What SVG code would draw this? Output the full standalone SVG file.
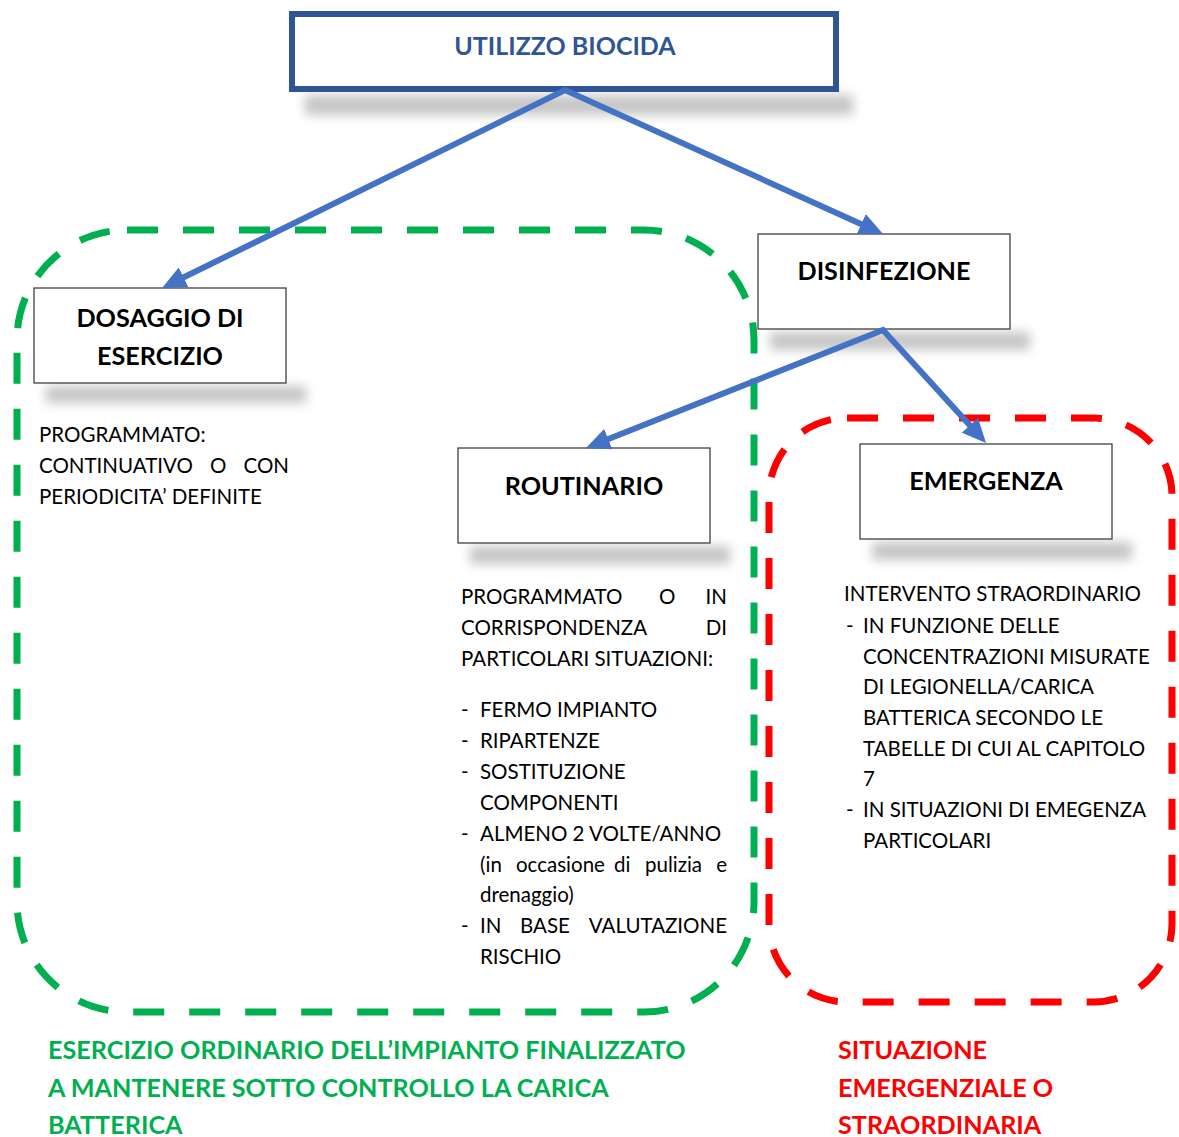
<svg xmlns="http://www.w3.org/2000/svg" width="1179" height="1137" viewBox="0 0 1179 1137">
<defs>
<style>
.box{fill:#fff;stroke:#404040;stroke-width:1.3}
.shadow{fill:#8c8c8c;opacity:0.5;filter:url(#blur)}
.h{font-family:Lato,"Liberation Sans",sans-serif;font-weight:bold;font-size:25.2px;fill:#000;text-anchor:middle}
.t{font-family:Lato,"Liberation Sans",sans-serif;font-size:20.5px;fill:#000}
.m{text-anchor:middle}
.e{text-anchor:end}
.conn{fill:none;stroke:#4472C4;stroke-width:6;stroke-linejoin:miter;marker-end:url(#ah)}
.region{fill:none;stroke-width:7;stroke-dasharray:31 25}
.lbl{font-family:Lato,"Liberation Sans",sans-serif;font-weight:bold;font-size:25.2px}
</style>
<filter id="blur" x="-20%" y="-150%" width="140%" height="400%"><feGaussianBlur stdDeviation="5.5"/></filter>
<marker id="ah" markerUnits="userSpaceOnUse" viewBox="0 0 24 22" markerWidth="24" markerHeight="22" refX="10" refY="11" orient="auto-start-reverse">
<path d="M0,0 L24,11 L0,22 z" fill="#4472C4"/>
</marker>
</defs>
<rect width="1179" height="1137" fill="#fff"/>

<g id="regions">
<rect id="region-ordinario" class="region" x="17" y="230" width="737" height="782" rx="110" ry="110" stroke="#00B050"/>
<rect id="region-emergenza" class="region" x="769" y="418" width="403" height="584" rx="78" ry="78" stroke="#FF0000"/>
</g>

<g id="node-utilizzo">
<rect class="shadow" x="305" y="95" width="548" height="20"/>
<rect x="292" y="14" width="544" height="75" fill="#fff" stroke="#2F5597" stroke-width="6"/>
<text x="565" y="55" class="h" style="font-size:25px;fill:#2F5597">UTILIZZO BIOCIDA</text>
</g>

<g id="node-dosaggio">
<rect class="shadow" x="46" y="386" width="260" height="17"/>
<rect class="box" x="34" y="288" width="252" height="95"/>
<text x="160" y="327" class="h">DOSAGGIO DI</text>
<text x="160" y="365" class="h">ESERCIZIO</text>
</g>

<g id="node-disinfezione">
<rect class="shadow" x="770" y="332" width="260" height="18"/>
<rect class="box" x="758" y="234" width="252" height="95"/>
<text x="884" y="280" class="h">DISINFEZIONE</text>
</g>

<g id="node-routinario">
<rect class="shadow" x="470" y="546" width="260" height="18"/>
<rect class="box" x="458" y="448" width="252" height="95"/>
<text x="584" y="495" class="h">ROUTINARIO</text>
</g>

<g id="node-emergenza">
<rect class="shadow" x="872" y="542" width="260" height="18"/>
<rect class="box" x="860" y="444" width="252" height="95"/>
<text x="986" y="490" class="h">EMERGENZA</text>
</g>

<g id="text-dosaggio" class="t">
<text x="39" y="442">PROGRAMMATO:</text>
<text y="473"><tspan x="39">CONTINUATIVO</tspan><tspan x="210">O</tspan><tspan x="289" class="e">CON</tspan></text>
<text x="39" y="504">PERIODICITA’ DEFINITE</text>
</g>

<g id="text-routinario" class="t">
<text y="604"><tspan x="461">PROGRAMMATO</tspan><tspan x="659">O</tspan><tspan x="727" class="e">IN</tspan></text>
<text y="635"><tspan x="461">CORRISPONDENZA</tspan><tspan x="727" class="e">DI</tspan></text>
<text x="461" y="666">PARTICOLARI SITUAZIONI:</text>
<text y="717"><tspan x="461">-</tspan><tspan x="480">FERMO IMPIANTO</tspan></text>
<text y="748"><tspan x="461">-</tspan><tspan x="480">RIPARTENZE</tspan></text>
<text y="779"><tspan x="461">-</tspan><tspan x="480">SOSTITUZIONE</tspan></text>
<text x="480" y="810">COMPONENTI</text>
<text y="841"><tspan x="461">-</tspan><tspan x="480">ALMENO 2 VOLTE/ANNO</tspan></text>
<text y="872"><tspan x="480">(in</tspan><tspan x="516">occasione</tspan><tspan x="614">di</tspan><tspan x="645">pulizia</tspan><tspan x="727" class="e">e</tspan></text>
<text x="480" y="902">drenaggio)</text>
<text y="933"><tspan x="461">-</tspan><tspan x="480">IN</tspan><tspan x="520">BASE</tspan><tspan x="727" class="e">VALUTAZIONE</tspan></text>
<text x="480" y="964">RISCHIO</text>
</g>

<g id="text-emergenza" class="t">
<text x="844" y="601">INTERVENTO STRAORDINARIO</text>
<text y="633"><tspan x="846">-</tspan><tspan x="863">IN FUNZIONE DELLE</tspan></text>
<text x="863" y="664">CONCENTRAZIONI MISURATE</text>
<text x="863" y="694">DI LEGIONELLA/CARICA</text>
<text x="863" y="725">BATTERICA SECONDO LE</text>
<text x="863" y="756">TABELLE DI CUI AL CAPITOLO</text>
<text x="863" y="786">7</text>
<text y="817"><tspan x="846">-</tspan><tspan x="863">IN SITUAZIONI DI EMEGENZA</tspan></text>
<text x="863" y="848">PARTICOLARI</text>
</g>

<g id="label-ordinario" class="lbl" fill="#00B050">
<text x="48" y="1059">ESERCIZIO ORDINARIO DELL’IMPIANTO FINALIZZATO</text>
<text x="48" y="1097">A MANTENERE SOTTO CONTROLLO LA CARICA</text>
<text x="48" y="1134">BATTERICA</text>
</g>

<g id="label-emergenziale" class="lbl" fill="#FF0000">
<text x="838" y="1059">SITUAZIONE</text>
<text x="838" y="1097">EMERGENZIALE O</text>
<text x="838" y="1134">STRAORDINARIA</text>
</g>

<g id="connectors">
<polyline class="conn" points="174.6,281.8 565,90 870.3,228.2" style="marker-start:url(#ah)"/>
<polyline class="conn" points="599,442.8 883,330 976.6,432.7" style="marker-start:url(#ah)"/>
</g>
</svg>
